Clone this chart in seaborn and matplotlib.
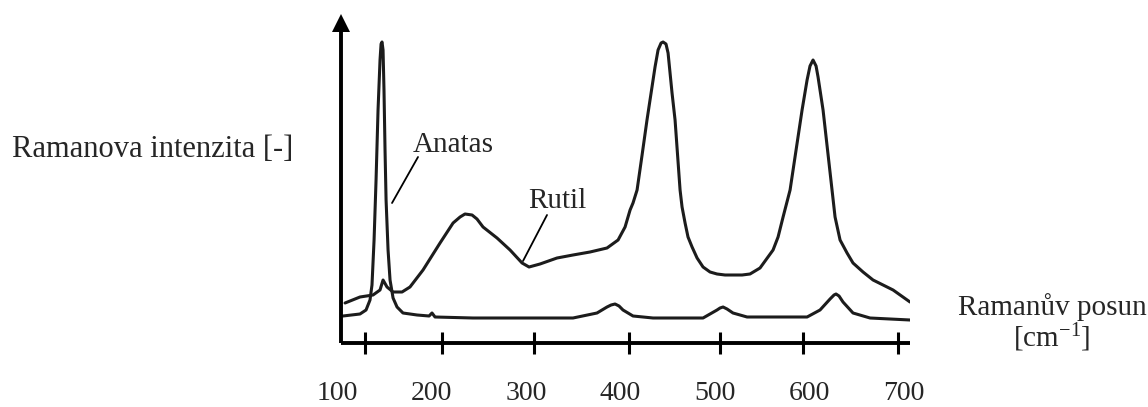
import numpy as np
import pandas as pd
import matplotlib
matplotlib.use("Agg")
import matplotlib.pyplot as plt
import seaborn as sns

# ---- data ----
anatas_x = [106.3, 124.3, 130.7, 134.9, 137.0, 139.2, 141.3, 143.4, 145.5, 146.6, 147.6,
            148.7, 149.7, 150.8, 151.9, 154.0, 156.1, 159.3, 163.5, 169.8, 184.7, 197.4,
            200.5, 203.7, 243.9, 349.7, 375.1, 385.7, 390.0, 394.2, 398.4, 402.6, 413.2,
            434.4, 487.3, 502.1, 505.3, 508.5, 512.7, 519.0, 533.9, 597.4, 611.1, 621.7,
            625.9, 628.0, 631.2, 635.4, 646.0, 664.0, 706.3]
anatas_y = [27, 29, 33, 43, 58, 103, 163, 233, 283, 299, 301,
            293, 253, 193, 143, 93, 63, 45, 36, 30, 28, 27,
            30, 26, 25, 25, 30, 36, 38, 39, 37, 33, 27,
            25, 25, 33, 35, 36, 34, 30, 26, 26, 33, 44,
            48, 49, 47, 41, 30, 25, 23]

rutil_x = [108.5, 124.3, 138.1, 145.5, 148.7, 152.9, 159.3, 168.8, 177.2, 191.0, 209.0,
           222.8, 230.2, 235.4, 242.9, 248.1, 254.5, 269.3, 283.1, 295.8, 303.2, 314.8,
           332.8, 349.7, 367.7, 385.7, 397.4, 404.8, 410.1, 413.2, 417.5, 422.8, 428.0,
           431.2, 433.3, 436.5, 439.7, 442.9, 445.0, 448.1, 450.3, 452.4, 454.5, 457.7,
           463.0, 465.1, 468.3, 471.4, 475.7, 481.0, 487.3, 494.7, 502.1, 510.6, 528.6,
           537.0, 547.6, 561.4, 566.7, 572.0, 579.4, 592.1, 597.4, 600.5, 603.7, 606.9,
           609.0, 614.3, 623.8, 627.0, 632.3, 639.7, 646.0, 656.6, 667.2, 688.4, 706.3]
rutil_y = [40, 46, 48, 53, 63, 56, 51, 51, 56, 73, 100,
           120, 126, 129, 128, 124, 116, 105, 93, 80, 76, 79,
           85, 88, 91, 95, 103, 116, 133, 140, 153, 188, 223,
           243, 256, 276, 293, 300, 301, 299, 290, 270, 250, 223,
           153, 136, 120, 106, 96, 85, 76, 71, 69, 68, 68,
           69, 75, 93, 106, 126, 153, 233, 263, 277, 283, 277,
           266, 233, 153, 126, 103, 90, 80, 71, 63, 53, 41]

tick_labels = [100, 200, 300, 400, 500, 600, 700]
tick_marks = [129.6, 211.1, 308.0, 409.0, 505.3, 593.1, 693.7]

# ---- style ----
sns.set_style("white")
plt.rcParams["font.family"] = ["Liberation Serif", "DejaVu Serif"]
plt.rcParams["mathtext.fontset"] = "custom"
plt.rcParams["mathtext.rm"] = "Liberation Serif"
plt.rcParams["mathtext.it"] = "Liberation Serif:italic"

W, H = 1148, 407
fig = plt.figure(figsize=(W / 100, H / 100), dpi=100)

x0, x1 = 95.0, 706.3
y0, y1 = 0.0, 330.0
ax = fig.add_axes([332.3 / W, 64 / H, (910 - 332.3) / W, 330 / H])

df_a = pd.DataFrame({"shift": anatas_x, "intensity": anatas_y})
df_r = pd.DataFrame({"shift": rutil_x, "intensity": rutil_y})
line_col = "#1c1c1c"
for df in (df_a, df_r):
    line = sns.lineplot(data=df, x="shift", y="intensity", ax=ax, color=line_col,
                        lw=2.2, estimator=None, sort=False)
for ln in ax.lines:
    ln.set_solid_joinstyle("round")
    ln.set_solid_capstyle("round")

ax.set_xlim(x0, x1)
ax.set_ylim(y0, y1)

yaxis_x = 104.2
for s in ["top", "right"]:
    ax.spines[s].set_visible(False)
ax.spines["left"].set_position(("data", yaxis_x))
ax.spines["left"].set_bounds(0, 316)
ax.spines["bottom"].set_bounds(yaxis_x, x1)
for s in ["left", "bottom"]:
    ax.spines[s].set_linewidth(2.8)
    ax.spines[s].set_color("black")
    ax.spines[s].set_capstyle("butt")

# arrow head on y axis
ax.plot([yaxis_x], [320.5], marker="^", ms=13.5, color="black", clip_on=False, mew=0)

ax.set_yticks([])
ax.set_xticks(tick_labels)
ax.set_xticklabels([str(t) for t in tick_labels])
ax.set_xticks(tick_marks, minor=True)
ax.tick_params(axis="x", which="major", length=0, pad=27, labelsize=20)
ax.tick_params(axis="x", which="minor", length=16, width=2.2, direction="inout",
               color="black", bottom=True)
ax.set_xlabel("")
ax.set_ylabel("")

# annotations
ax.text(180.4, 191, "Anatas", fontsize=21, ha="left", va="baseline")
ax.plot([185.7, 158.2], [186, 140], color="black", lw=1.3)
ax.text(302.1, 135, "Rutil", fontsize=21, ha="left", va="baseline")
ax.plot([322.2, 296.8], [128, 82], color="black", lw=1.3)

fig.text(12 / W, (H - 157) / H, "Ramanova intenzita [-]", fontsize=22,
         ha="left", va="baseline")
fig.text(1052 / W, (H - 315) / H, "Ramanův posun", fontsize=21,
         ha="center", va="baseline")
fig.text(1052 / W, (H - 347) / H, r"[cm$^{\mathrm{-1}}$]", fontsize=21,
         ha="center", va="baseline")

fig.savefig("out.png", dpi=100)
